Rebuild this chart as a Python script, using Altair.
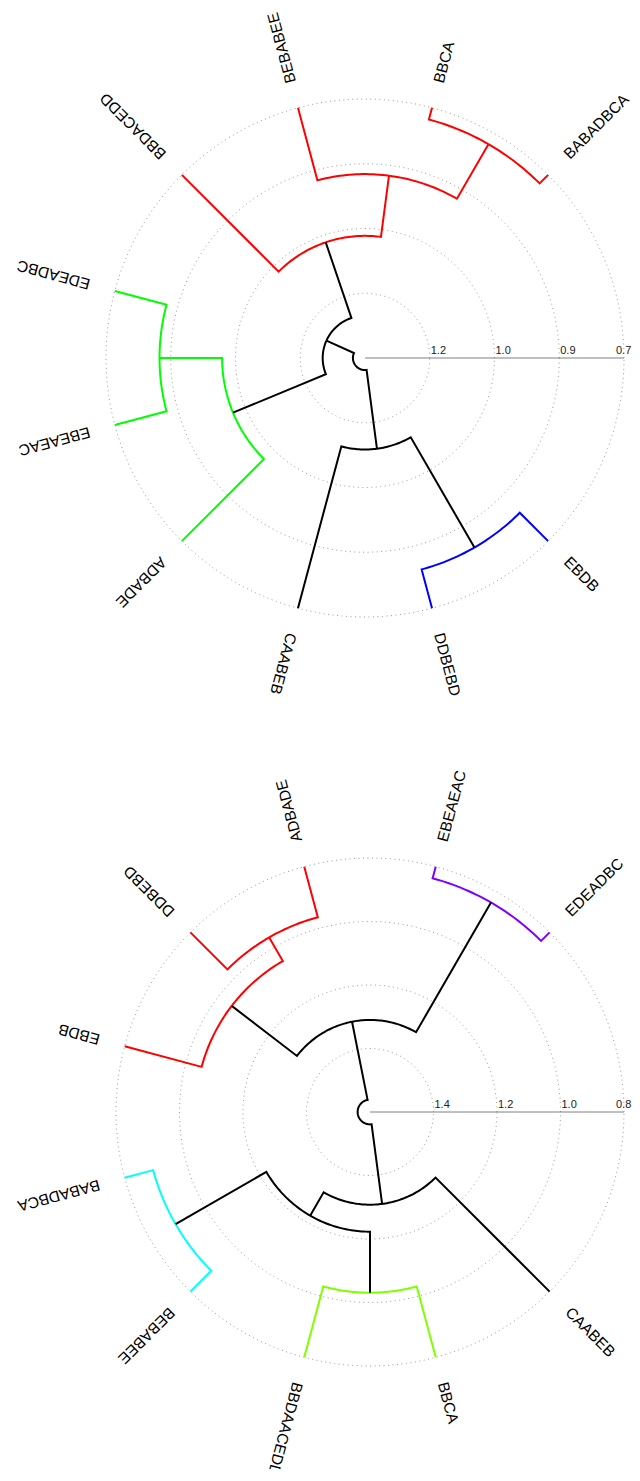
import math
import altair as alt
import pandas as pd

# ---------------- data ----------------
# Top dendrogram: leaves in counter-clockwise order (starting at the first leaf slot)
top_leaves = ["BABADBCA", "BBCA", "BEBABEE", "BBDACEDD", "EDEADBC",
              "EBEAEAC", "ADBADE", "CAABEB", "DDBEBD", "EBDB"]
top_leaf_cluster = [0, 0, 0, 0, 1, 1, 1, None, 2, 2]
top_cluster_colors = ["#FF0000", "#00FF00", "#0000FF"]
top_merge_name = ["A1", "A2", "A3", "G1", "G2", "T1", "B1", "T2", "ROOT"]
top_merge_left = ["BABADBCA", "A1", "A2", "EDEADBC", "G1", "A3", "DDBEBD", "CAABEB", "T1"]
top_merge_right = ["BBCA", "BEBABEE", "BBDACEDD", "EBEAEAC", "ADBADE", "G2", "EBDB", "B1", "T2"]
top_merge_height = [0.748, 0.894, 1.037, 0.844, 0.989, 1.222, 0.813, 1.108, 1.292]
top_ticks = [1.17, 1.02, 0.87, 0.72]
top_height_range = [1.32, 0.72]   # centre, outer ring

# Bottom dendrogram
bot_leaves = ["EDEADBC", "EBEAEAC", "ADBADE", "DDBEBD", "EBDB",
              "BABADBCA", "BEBABEE", "BBDAACEDD", "BBCA", "CAABEB"]
bot_leaf_cluster = [3, 3, 0, 0, 0, 2, 2, 1, 1, None]
bot_cluster_colors = ["#FF0000", "#80FF00", "#00FFFF", "#8000FF"]
bot_merge_name = ["P1", "R1", "R2", "Q1", "C1", "L1", "Q2", "Q3", "ROOT"]
bot_merge_left = ["EDEADBC", "ADBADE", "R1", "P1", "BABADBCA", "BBDAACEDD", "C1", "Q2", "Q1"]
bot_merge_right = ["EBEAEAC", "DDBEBD", "EBDB", "R2", "BEBABEE", "BBCA", "L1", "CAABEB", "Q3"]
bot_merge_height = [0.838, 0.965, 1.051, 1.310, 0.893, 1.031, 1.223, 1.308, 1.561]
bot_ticks = [1.4, 1.2, 1.0, 0.8]
bot_height_range = [1.6, 0.8]

# ---------------- layout (page pixel space) ----------------
LAYOUT = {
    "top": dict(cx=365, cy=358, R=259),
    "bot": dict(cx=370, cy=1112, R=254),
}
FIRST_ANGLE = 45.0
ANGLE_STEP = 30.0
LABEL_GAP = 26
TICK_FONT = 11
TICK_LABEL_W = 16   # approx. width of a "0.0" tick label

# chart size kept inside the 640x1481 window (8px page margin)
W, H = 624, 1461
RIGHT_EDGE = 8 + W


def build(tag, leaves, leaf_cluster, colors, names, lefts, rights, heights, ticks, hrange):
    lay = LAYOUT[tag]
    cx, cy, R = lay["cx"], lay["cy"], lay["R"]
    h0, h1 = hrange

    def rad(h):
        return (h0 - h) / (h0 - h1) * R

    def pt(r, th):
        t = math.radians(th)
        return cx + r * math.cos(t), cy - r * math.sin(t)

    angle, height, members = {}, {}, {}
    for i, lf in enumerate(leaves):
        angle[lf] = FIRST_ANGLE + ANGLE_STEP * i
        height[lf] = h1
        members[lf] = {leaf_cluster[i]}
    children = {}
    for n, a, b, h in zip(names, lefts, rights, heights):
        angle[n] = (angle[a] + angle[b]) / 2
        height[n] = h
        members[n] = members[a] | members[b]
        children[n] = (a, b)

    edges = []
    for p, (a, b) in children.items():
        m = members[p]
        if len(m) == 1 and None not in m:
            col = colors[list(m)[0]]
        else:
            col = "#000000"
        rp = rad(height[p])
        for c in (a, b):
            th0, th1 = angle[p], angle[c]
            n = max(2, int(abs(th1 - th0)) + 1)
            seq = 0
            for k in range(n):
                th = th0 + (th1 - th0) * k / (n - 1)
                x, y = pt(rp, th)
                edges.append(dict(edge=f"{tag}-{p}-{c}", seq=seq, x=x, y=y, color=col))
                seq += 1
            x, y = pt(rad(height[c]), th1)
            edges.append(dict(edge=f"{tag}-{p}-{c}", seq=seq, x=x, y=y, color=col))

    circles = []
    for t in ticks:
        r = rad(t)
        for k in range(361):
            x, y = pt(r, k)
            circles.append(dict(circle=f"{tag}-{t}", seq=k, x=x, y=y))

    axis = [dict(ax=tag, seq=0, x=cx, y=cy), dict(ax=tag, seq=1, x=cx + R, y=cy)]
    tick_lab = []
    for t in ticks:
        # label just right of its ring, kept inside the visible page
        x = min(cx + rad(t) + 1, RIGHT_EDGE - TICK_LABEL_W)
        tick_lab.append(dict(x=x, y=cy, label=f"{t:.1f}"))

    labels = []
    for lf in leaves:
        x, y = pt(R + LABEL_GAP, angle[lf])
        labels.append(dict(x=x, y=y, label=lf, rot=(360 - angle[lf]) % 360))
    return edges, circles, axis, tick_lab, labels


parts = [
    build("top", top_leaves, top_leaf_cluster, top_cluster_colors, top_merge_name,
          top_merge_left, top_merge_right, top_merge_height, top_ticks, top_height_range),
    build("bot", bot_leaves, bot_leaf_cluster, bot_cluster_colors, bot_merge_name,
          bot_merge_left, bot_merge_right, bot_merge_height, bot_ticks, bot_height_range),
]

edges_df = pd.DataFrame(parts[0][0] + parts[1][0])
circ_df = pd.DataFrame(parts[0][1] + parts[1][1])
axis_df = pd.DataFrame(parts[0][2] + parts[1][2])
tick_df = pd.DataFrame(parts[0][3] + parts[1][3])
lab_df = pd.DataFrame(parts[0][4] + parts[1][4])

X = alt.X("x:Q", scale=alt.Scale(domain=[8, 8 + W], nice=False, zero=False), axis=None)
Y = alt.Y("y:Q", scale=alt.Scale(domain=[8, 8 + H], nice=False, zero=False, reverse=True), axis=None)

circles = alt.Chart(circ_df).mark_line(
    color="#999999", strokeWidth=1, strokeDash=[1, 3.5]
).encode(x=X, y=Y, detail="circle:N", order="seq:Q")

axis_line = alt.Chart(axis_df).mark_line(color="#808080", strokeWidth=1).encode(
    x=X, y=Y, detail="ax:N", order="seq:Q")

tick_text = alt.Chart(tick_df).mark_text(
    align="left", baseline="bottom", dy=-2, fontSize=TICK_FONT,
    font="Liberation Sans", color="#222222"
).encode(x=X, y=Y, text="label:N")

branches = alt.Chart(edges_df).mark_line(
    strokeWidth=2, strokeJoin="miter", strokeCap="butt"
).encode(x=X, y=Y, detail="edge:N", order="seq:Q",
         color=alt.Color("color:N", scale=None))

leaf_text = alt.Chart(lab_df).mark_text(
    align="left", baseline="middle", fontSize=15.5, font="Liberation Sans", color="#000000"
).encode(x=X, y=Y, text="label:N", angle=alt.Angle("rot:Q", scale=None))

chart = alt.layer(circles, axis_line, tick_text, branches, leaf_text).properties(
    width=W, height=H, autosize=alt.AutoSizeParams(type="none"), padding=0
).configure_view(strokeWidth=0)

chart.save("out.html", embed_options={"renderer": "svg", "actions": False})
